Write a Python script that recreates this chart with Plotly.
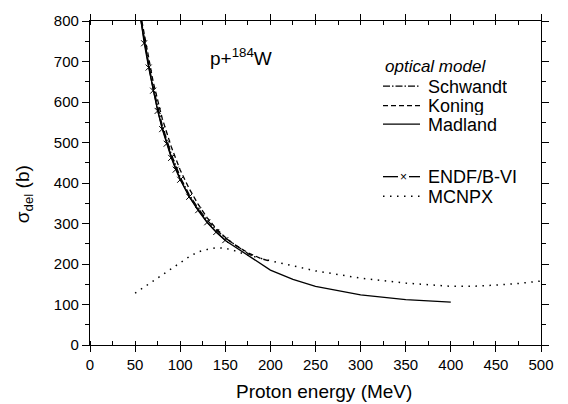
import plotly.graph_objects as go

# ---- data ----
madland_e = [56.5, 60, 65, 70, 75, 80, 85, 90, 95, 100, 110, 120, 130, 140, 150, 175, 200, 225, 250, 300, 350, 400]
madland_s = [800, 752, 690, 632, 580, 537, 500, 466, 437, 410, 366, 332, 302, 278, 258, 222, 185, 162, 145, 124, 112, 106]

schwandt_e = [57, 60, 65, 70, 80, 90, 100, 110, 120, 130, 140, 150, 160, 175, 180]
schwandt_s = [800, 757, 694, 637, 543, 472, 415, 371, 337, 308, 284, 264, 248, 226, 220]

koning_e = [57.5, 65, 70, 80, 90, 100, 110, 120, 130, 140, 150, 160, 175, 190, 200]
koning_s = [800, 705, 650, 560, 490, 432, 386, 347, 314, 287, 266, 248, 228, 213, 207]

endf_e = [56.5, 60, 65, 70, 75, 80, 85, 90, 95, 100, 110, 120, 130, 140, 150]
endf_s = [800, 745, 685, 628, 578, 533, 497, 462, 433, 408, 366, 333, 303, 279, 259]

mcnpx_e = [50, 60, 70, 80, 90, 100, 110, 120, 130, 140, 150, 160, 175, 200, 225, 250, 300, 350, 400, 425, 450, 475, 500]
mcnpx_s = [128, 142, 158, 173, 188, 202, 218, 230, 236, 240, 239, 233, 222, 208, 195, 183, 165, 153, 145, 145, 148, 152, 158]

x_ticks = [0, 50, 100, 150, 200, 250, 300, 350, 400, 450, 500]
y_ticks = [0, 100, 200, 300, 400, 500, 600, 700, 800]

FONT = "Liberation Sans, Arial, sans-serif"
LW = 1.3

fig = go.Figure()
fig.add_trace(go.Scatter(x=schwandt_e, y=schwandt_s, mode="lines",
                         line=dict(color="black", width=LW, dash="7px,2px,1.5px,2px")))
fig.add_trace(go.Scatter(x=koning_e, y=koning_s, mode="lines",
                         line=dict(color="black", width=LW, dash="5px,3px")))
fig.add_trace(go.Scatter(x=madland_e, y=madland_s, mode="lines",
                         line=dict(color="black", width=LW)))
fig.add_trace(go.Scatter(x=endf_e[1:], y=endf_s[1:], mode="markers",
                         marker=dict(symbol="x-thin", size=6, line=dict(color="black", width=1))))
fig.add_trace(go.Scatter(x=endf_e, y=endf_s, mode="lines",
                         line=dict(color="black", width=1.1)))
fig.add_trace(go.Scatter(x=mcnpx_e, y=mcnpx_s, mode="lines",
                         line=dict(color="black", width=1.5, dash="1.5px,5.5px")))

L, R, T, B = 90, 27, 12, 59
W, H = 568, 404
pw, ph = W - L - R, H - T - B

def px(xp):
    return (xp - L) / pw

def py(yp):
    return (H - B - yp) / ph

annotations = []
shapes = []

# legend block
annotations.append(dict(x=px(383), y=py(59), xref="paper", yref="paper", text="<i>optical model</i>",
                        showarrow=False, xanchor="left", yanchor="middle", height=19,
                        font=dict(family=FONT, size=17, color="black")))
items = [("Schwandt", 79, "7px,2px,1.5px,2px"), ("Koning", 99, "5px,3px"), ("Madland", 118, "solid"),
         ("ENDF/B-VI", 172, None), ("MCNPX", 192, "1.5px,5.5px")]
for name, yy, dash in items:
    annotations.append(dict(x=px(426), y=py(yy), xref="paper", yref="paper", text=name,
                            showarrow=False, xanchor="left", yanchor="middle", height=19,
                            font=dict(family=FONT, size=18, color="black")))
    if dash is None:
        for x0, x1 in [(383, 398), (409, 420)]:
            shapes.append(dict(type="line", xref="paper", yref="paper", x0=px(x0), x1=px(x1),
                               y0=py(yy), y1=py(yy), line=dict(color="black", width=LW)))
        annotations.append(dict(x=px(403.5), y=py(yy), xref="paper", yref="paper", text="×",
                                showarrow=False, xanchor="center", yanchor="middle",
                                font=dict(family=FONT, size=12, color="black")))
    else:
        shapes.append(dict(type="line", xref="paper", yref="paper", x0=px(383), x1=px(420),
                           y0=py(yy), y1=py(yy), line=dict(color="black", width=LW if dash != "1.5px,5.5px" else 1.5, dash=dash)))

annotations.append(dict(x=px(208), y=py(49), xref="paper", yref="paper", text="p+<sup>184</sup>W",
                        showarrow=False, xanchor="left", yanchor="middle",
                        font=dict(family=FONT, size=19, color="black")))
annotations.append(dict(x=px(24), y=py(190), xref="paper", yref="paper", text="σ<sub>del</sub> (b)",
                        showarrow=False, xanchor="center", yanchor="middle", textangle=-90,
                        font=dict(family=FONT, size=19, color="black")))
annotations.append(dict(x=px(324), y=py(393), xref="paper", yref="paper", text="Proton energy (MeV)",
                        showarrow=False, xanchor="center", yanchor="middle",
                        font=dict(family=FONT, size=19, color="black")))

fig.update_layout(
    width=W, height=H, margin=dict(l=L, r=R, t=T, b=B),
    paper_bgcolor="white", plot_bgcolor="white", showlegend=False,
    font=dict(family=FONT, size=15, color="black"),
    annotations=annotations, shapes=shapes,
    xaxis=dict(range=[0, 500], tickvals=x_ticks, ticktext=[str(v) for v in x_ticks],
               showgrid=False, zeroline=False, showline=True, linecolor="black", linewidth=1.3,
               mirror="ticks", ticks="outside", ticklen=6, tickwidth=1.1, tickcolor="black",
               minor=dict(dtick=25, tick0=0, ticks="inside", ticklen=4, tickwidth=1, tickcolor="black"),
               tickfont=dict(family=FONT, size=15)),
    yaxis=dict(range=[0, 800], tickvals=y_ticks, ticktext=[str(v) for v in y_ticks],
               showgrid=False, zeroline=False, showline=True, linecolor="black", linewidth=1.3,
               mirror="ticks", ticks="outside", ticklen=7, tickwidth=1.1, tickcolor="black",
               minor=dict(dtick=50, tick0=0, ticks="outside", ticklen=4, tickwidth=1, tickcolor="black"),
               tickfont=dict(family=FONT, size=15)),
)

fig.write_html("out.html")
